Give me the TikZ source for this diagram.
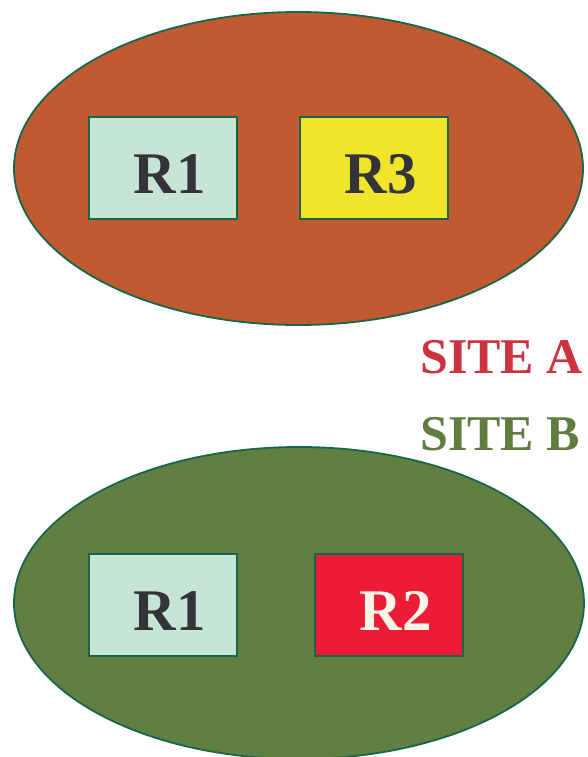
\documentclass[tikz,border=0pt]{standalone}
\usepackage{fontspec}
\setmainfont{Liberation Serif}
\usetikzlibrary{shapes.geometric}
\definecolor{siteAfill}{HTML}{C05A30}
\definecolor{siteBfill}{HTML}{617F41}
\definecolor{edgegreen}{HTML}{17664A}
\definecolor{rone}{HTML}{C7E5D4}
\definecolor{rthree}{HTML}{F0E52B}
\definecolor{rtwo}{HTML}{EC1C36}
\definecolor{darktext}{HTML}{333338}
\definecolor{lighttext}{HTML}{FFF5E8}
\definecolor{siteAtext}{HTML}{CC3340}
\definecolor{siteBtext}{HTML}{5E7D3E}
\tikzset{
  site/.style={draw=edgegreen, line width=1.8pt},
  rbox/.style={draw=edgegreen, line width=2pt, minimum width=148pt, minimum height=102pt, inner sep=0pt},
  rlabel/.style={font=\fontsize{59}{61}\selectfont\bfseries, text=darktext, inner sep=0pt},
  sitelabel/.style={font=\fontsize{50}{52}\selectfont\bfseries, anchor=west, inner sep=0pt}
}
\begin{document}
\begin{tikzpicture}[x=1pt,y=-1pt]
\useasboundingbox (0,0) rectangle (587,757);
% Site A ellipse
\fill[siteAfill] (298.5,168.5) ellipse [x radius=284.5, y radius=156.5];
\draw[site] (298.5,168.5) ellipse [x radius=284.5, y radius=156.5];
% Site B ellipse
\fill[siteBfill] (299,603) ellipse [x radius=285, y radius=156];
\draw[site] (299,603) ellipse [x radius=285, y radius=156];
% boxes top
\node[rbox, fill=rone] (a1) at (163,168) {};
\node[rbox, fill=rthree] (a3) at (373.5,168) {};
\node[rlabel] (a1t) at (170,174) {R1};
\node[rlabel] (a3t) at (381,174) {R3};
% boxes bottom
\node[rbox, fill=rone] (b1) at (163,605) {};
\node[rbox, fill=rtwo] (b2) at (388.5,605) {};
\node[rlabel] (b1t) at (170,611) {R1};
\node[rlabel, text=lighttext] (b2t) at (396,611) {R2};
% site labels
\node[sitelabel, text=siteAtext] (la) at (420,357) {SITE A};
\node[sitelabel, text=siteBtext] (lb) at (420,434) {SITE B};
\end{tikzpicture}
\end{document}
